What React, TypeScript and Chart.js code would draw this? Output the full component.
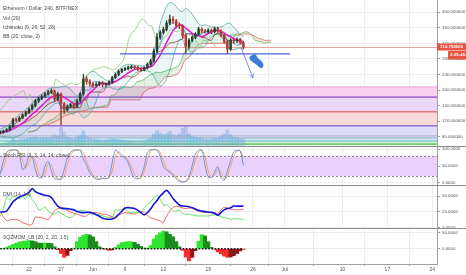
import React, { useEffect, useRef } from 'react';
import { Chart, registerables } from 'chart.js';

Chart.register(...registerables);

// ---------- time axis ----------
const START_DAY = 17.5; // day-of-May, 2017 (May 17 12:00)
const STEP_DAYS = 0.5;
const ICHI_SHIFT = (26 * 4) / 24; // 26 bars of 240 min
const X_MIN = 17.47;
const X_MAX = 85.75;
const tickDays = [22, 27, 32, 37, 43, 50, 57, 62, 71, 78, 85];
const tickLabels = ['22', '27', 'Jun', '6', '12', '19', '26', 'Jul', '10', '17', '24'];

// ---------- price ----------
const opens = [90, 92, 94, 98, 106, 124, 122, 128, 136, 142, 151, 160, 172, 178, 184, 190, 195, 198, 176, 190, 165, 150, 158, 162, 157, 172, 190, 228, 222, 216, 212, 215, 219, 214, 215, 220, 232, 240, 248, 253, 255, 258, 260, 258, 254, 252, 257, 266, 275, 300, 335, 348, 356, 372, 382, 378, 366, 365, 340, 312, 328, 336, 344, 357, 352, 350, 354, 350, 358, 352, 340, 325, 305, 328, 326, 330, 322];
const closes = [92, 94, 98, 106, 124, 122, 128, 136, 142, 151, 160, 172, 178, 184, 190, 195, 198, 176, 190, 165, 150, 158, 162, 157, 172, 190, 228, 222, 216, 212, 215, 219, 214, 215, 220, 232, 240, 248, 253, 255, 258, 260, 258, 254, 252, 257, 266, 275, 300, 335, 348, 356, 372, 382, 378, 366, 365, 340, 312, 328, 336, 344, 357, 352, 350, 354, 350, 358, 352, 340, 325, 305, 328, 326, 330, 322, 310.75];
const highs = [95, 97, 101, 110, 128, 127, 132, 139, 146, 155, 164, 176, 182, 188, 194, 199, 203, 200, 194, 192, 168, 162, 166, 165, 176, 194, 240, 234, 226, 219, 219, 222, 222, 218, 223, 235, 244, 252, 256, 259, 262, 264, 263, 261, 257, 260, 270, 279, 306, 345, 353, 362, 378, 393, 389, 382, 372, 368, 344, 333, 340, 348, 362, 360, 356, 358, 357, 362, 361, 355, 343, 328, 332, 331, 334, 333, 325];
const lows = [87, 89, 92, 96, 104, 118, 119, 126, 133, 139, 148, 157, 168, 175, 181, 187, 191, 170, 173, 110, 140, 146, 154, 152, 154, 168, 186, 215, 210, 206, 208, 211, 208, 210, 212, 217, 229, 237, 245, 250, 252, 255, 255, 250, 248, 249, 254, 262, 271, 296, 330, 344, 352, 368, 372, 360, 358, 334, 295, 306, 324, 332, 340, 348, 346, 346, 345, 347, 348, 336, 320, 294, 302, 320, 322, 318, 306];
const volumes = [30, 35, 40, 55, 90, 70, 75, 80, 85, 95, 100, 110, 95, 90, 100, 95, 110, 140, 120, 230, 170, 110, 95, 90, 110, 130, 190, 120, 95, 85, 80, 75, 70, 75, 80, 90, 85, 80, 70, 65, 60, 60, 55, 55, 60, 65, 80, 95, 150, 190, 160, 140, 150, 180, 140, 130, 150, 220, 240, 150, 120, 110, 100, 90, 85, 80, 90, 95, 100, 120, 150, 200, 140, 110, 100, 95, 90];

// Bollinger (20, close, 2)
const bbBasis = [90, 91, 93, 96, 100, 104, 109, 115, 122, 130, 138, 144, 152, 160, 168, 176, 182, 185, 187, 185, 181, 176, 171, 165, 165, 165, 174, 184, 192, 200, 208, 215, 218, 216, 216, 218, 222, 227, 232, 238, 244, 249, 253, 255, 256, 256, 258, 260, 266, 277, 290, 305, 322, 338, 353, 362, 367, 366, 359, 353, 346, 342, 340, 338, 340, 346, 349, 352, 353, 351, 347, 341, 337, 333, 329, 325, 321];
const bbUpper = [100, 103, 107, 113, 124, 130, 137, 143, 150, 158, 166, 176, 184, 190, 196, 202, 206, 206, 207, 208, 210, 208, 202, 192, 185, 192, 220, 236, 245, 248, 245, 236, 232, 226, 224, 232, 242, 252, 260, 264, 266, 266, 264, 263, 262, 262, 267, 274, 296, 334, 370, 395, 415, 425, 423, 415, 405, 402, 410, 405, 395, 383, 370, 365, 368, 365, 362, 362, 362, 362, 366, 372, 370, 362, 352, 342, 338];
const bbLower = [82, 80, 79, 79, 78, 80, 83, 87, 94, 102, 110, 112, 120, 130, 140, 150, 158, 164, 167, 162, 152, 144, 140, 138, 145, 138, 128, 132, 139, 152, 171, 194, 204, 206, 208, 204, 202, 202, 204, 212, 222, 232, 242, 247, 250, 250, 249, 246, 236, 220, 210, 215, 229, 251, 283, 309, 329, 330, 308, 301, 297, 301, 310, 311, 312, 327, 336, 342, 344, 340, 328, 310, 304, 304, 306, 308, 304];

// Ichimoku (9, 26, 52, 26)
const tenkan = [92, 93, 95, 100, 110, 115, 125, 130, 135, 145, 151, 160, 170, 178, 184, 190, 194, 187, 187, 154, 154, 154, 155, 160, 165, 172, 198, 200, 200, 220, 222, 220, 218, 218, 218, 225, 230, 238, 246, 252, 256, 258, 258, 257, 256, 256, 258, 263, 280, 300, 315, 345, 360, 368, 372, 374, 372, 362, 345, 345, 345, 335, 340, 345, 350, 353, 352, 354, 354, 350, 340, 328, 325, 320, 315, 318, 318];
const kijun = [92, 93, 95, 98, 105, 108, 110, 114, 117, 122, 128, 133, 140, 148, 157, 163, 168, 170, 175, 155, 155, 155, 155, 155, 155, 155, 175, 175, 195, 195, 195, 195, 195, 206, 222, 222, 222, 226, 231, 233, 236, 233, 235, 242, 249, 252, 258, 262, 275, 295, 300, 305, 312, 321, 322, 324, 328, 332, 344, 344, 344, 344, 340, 335, 335, 330, 328, 341, 346, 346, 341, 328, 328, 328, 328, 328, 326];
const spanA = [92, 93, 95, 99, 107, 111, 117, 122, 126, 133, 139, 146, 155, 163, 170, 176, 181, 178, 181, 154, 154, 154, 155, 157, 160, 163, 186, 187, 197, 207, 208, 207, 206, 212, 220, 223, 226, 232, 238, 242, 246, 245, 246, 249, 252, 254, 258, 262, 277, 297, 307, 325, 336, 344, 347, 349, 350, 347, 344, 344, 344, 338, 340, 340, 342, 341, 340, 347, 350, 348, 340, 328, 326, 324, 321, 323, 322];
const spanB = [92, 93, 95, 99, 108, 110, 110, 114, 117, 121, 126, 132, 135, 138, 141, 143, 145, 146, 148, 150, 153, 156, 156, 156, 156, 156, 175, 175, 175, 175, 175, 175, 175, 175, 175, 175, 192, 199, 204, 205, 208, 216, 225, 235, 235, 235, 239, 243, 257, 277, 282, 290, 303, 315, 319, 320, 320, 320, 320, 320, 320, 321, 323, 327, 332, 344, 344, 344, 344, 344, 342, 338, 333, 331, 328, 328, 328];

// horizontal zones drawn on the chart (price levels)
const zoneTops = [208, 182, 144, 108, 82, 77, 69];
const zoneBottoms = [182, 144, 108, 82, 77, 69, 61];
const zoneLineLevels = [208, 182, 144, 108, 82, 77, 69, 61];

// drawings (day / price)
const trendDays = [36.2, 62.8];
const trendPrices = [293, 293];
const arrowDays = [55.1, 57.0];
const arrowPrices = [311, 231];
const blobDays = [56.74, 57.42, 57.67, 58.45, 58.72, 58.3, 57.78, 57.27, 56.58, 56.38];
const blobPrices = [290, 294.5, 281.7, 274.7, 261.8, 254.1, 261.8, 268.8, 275.5, 284.2];

const priceTicks = [80, 120, 160, 200, 240, 280, 320, 360, 400];

// ---------- Stoch RSI ----------
const stochK = [26, 65, 90, 97, 97, 97, 82, 40, 50, 80, 76, 40, 16, 16, 50, 64, 35, 13, 11, 11, 40, 75, 90, 97, 97, 97, 71, 52, 30, 18, 11, 11, 15, 12, 18, 60, 97, 88, 78, 74, 60, 32, 14, 12, 20, 48, 90, 98, 98, 97, 79, 47, 38, 31, 23, 13, 5, 3, 5, 20, 50, 85, 96, 97, 52, 18, 16, 32, 48, 15, 8, 35, 66, 92, 96, 94, 52];
const stochD = [30, 45, 75, 92, 97, 97, 92, 65, 45, 62, 78, 62, 30, 16, 28, 56, 52, 25, 12, 11, 22, 55, 82, 94, 97, 97, 88, 62, 42, 25, 15, 11, 13, 13, 15, 35, 78, 92, 84, 76, 68, 48, 24, 13, 15, 32, 68, 94, 98, 98, 90, 64, 43, 35, 27, 18, 9, 4, 4, 12, 34, 68, 90, 96, 78, 35, 17, 22, 40, 32, 12, 20, 50, 80, 94, 95, 75];
const stochBand = [80, 20];
const stochTicks = [0, 50, 100];

// ---------- DMI ----------
const adx = [24.7, 24.7, 26, 33, 41, 45, 48.5, 50.6, 52.7, 56, 61.8, 57, 54.3, 52.8, 51, 50.6, 47.5, 40.5, 34, 31, 30, 30, 29, 28, 25.7, 24, 23.6, 24, 24, 22.5, 20.4, 17.8, 14.6, 13.5, 13, 13.5, 15.6, 21, 25.7, 31, 31.5, 31, 30, 27.3, 23.6, 20, 23.6, 29.4, 36.8, 43, 50, 55, 59, 53.8, 46, 40.5, 35.8, 34, 33.7, 33, 31.5, 29.4, 27.3, 26, 25.2, 24.7, 24, 22.5, 19.4, 23.6, 28, 30, 31.5, 34, 34, 34, 34];
const plusDI = [18.3, 29, 49, 43, 50, 48, 46, 49, 46, 54, 44, 38.4, 28, 29, 33, 26, 22.5, 21, 25, 22.5, 20, 16.7, 15.6, 19.4, 23.6, 27.3, 26.8, 25, 22.5, 21, 21, 20, 18.3, 17, 16, 15.6, 28, 27.3, 29, 30, 24.7, 23.6, 23.6, 23.6, 23.6, 31.5, 37, 40.5, 47, 52, 44.8, 35, 36.3, 32, 26, 25.7, 28, 22.5, 21, 21, 20, 18.8, 18.3, 18.3, 18.3, 18.3, 19.4, 20.4, 19.4, 17, 15.6, 14.6, 13, 13.5, 14, 13.5, 13];
const minusDI = [26, 16.7, 11, 12, 13, 13, 11, 7.7, 6, 4, 5, 17, 15.6, 15.6, 14, 12, 19.4, 26.8, 30, 30.5, 31, 26.8, 24.7, 22.5, 21, 19.4, 17.8, 18.3, 22.5, 23.6, 23.6, 22.5, 21, 21, 18.8, 17, 16, 19.4, 21.5, 23.6, 23, 22, 21, 23.6, 25.7, 24, 19.4, 15, 14, 12, 10.4, 7.7, 18.3, 26, 32, 34, 33, 31, 30, 31, 30.5, 28, 25.7, 24.7, 24, 23.6, 23.6, 23.6, 21.5, 28, 32, 31, 29, 28.4, 28, 28.4, 29];
const dmiTicks = [0, 25, 50];

// ---------- SQZMOM ----------
const sqzMom = [0, 1, 4, 9, 13, 17, 21, 23, 24, 25.5, 24.5, 22, 18, 17, 18, 17, 16, 6, -3, -15, -27, -21, -6, 2, 22, 36, 42, 45, 43, 37, 22, 6, 0.5, -1.5, -5, -4, 4, 12, 19, 21, 22, 22, 20, 14, 7, 2, 0.5, 10, 30, 42, 50, 55, 53, 45, 37, 22, 6, -5, -26, -38, -27, -6, 23, 44, 40, 22, 4, -1.5, -10, -16, -23, -27, -26, -22, -15, -7, -1];
const sqzTicks = [0, 50];

// ---------- styling ----------
const FONT = '"Liberation Sans", Arial, sans-serif';
const AXIS_W = 29;
const ZONE_FILLS = ['#f6d2ee', '#ebd8f8', '#f7dada', '#dcdcf7', '#e3e7ef', '#cfeaf2', '#d5f1d5'];
const ZONE_LINES = ['#e69ed8', '#a870da', '#e07c7c', '#8f72d8', '#a7aec8', '#8ea6cc', '#5cc2cc', '#6fd06f'];
const ZONE_LINE_W = [1, 1.8, 1.4, 1.6, 1, 1, 1.2, 1.8];

const days = closes.map((_, i) => START_DAY + STEP_DAYS * i);
const series = (vals: number[], shift = 0) => vals.map((v, i) => ({ x: days[i] + shift, y: v }));
const pairs = (xs: number[], ys: number[]) => xs.map((x, i) => ({ x, y: ys[i] }));

function zeroPad(s: any) {
  s.paddingTop = 0;
  s.paddingBottom = 0;
  s.paddingLeft = 0;
  s.paddingRight = 0;
}

function xScale(show: boolean) {
  return {
    type: 'linear',
    min: X_MIN,
    max: X_MAX,
    offset: false,
    afterBuildTicks: (s: any) => {
      s.ticks = tickDays.map((v) => ({ value: v }));
    },
    afterFit: (s: any) => {
      s.height = show ? 11 : 0;
      zeroPad(s);
    },
    grid: { color: '#ededed', lineWidth: 1, drawTicks: show, tickLength: 2, tickColor: '#aaa' },
    border: { display: show, color: '#a0a0a0' },
    ticks: {
      display: show,
      autoSkip: false,
      maxRotation: 0,
      padding: 1,
      color: '#555',
      font: { family: FONT, size: 5 },
      callback: (_v: any, i: number) => tickLabels[i],
    },
  };
}

function yScale(min: number, max: number, ticks: number[], decimals: number) {
  return {
    position: 'right',
    min,
    max,
    afterBuildTicks: (s: any) => {
      s.ticks = ticks.map((v) => ({ value: v }));
    },
    afterFit: (s: any) => {
      s.width = AXIS_W;
      zeroPad(s);
    },
    grid: { color: '#eeeeee', lineWidth: 1, tickLength: 3, tickColor: '#a0a0a0' },
    border: { color: '#a0a0a0' },
    ticks: {
      padding: 2,
      color: '#555',
      font: { family: FONT, size: 4.4 },
      callback: (v: any) => Number(v).toFixed(decimals),
    },
  };
}

function baseOptions(scales: any) {
  return {
    responsive: false,
    maintainAspectRatio: false,
    animation: false,
    devicePixelRatio: 1,
    events: [],
    layout: { padding: 0 },
    plugins: { legend: { display: false }, tooltip: { enabled: false } },
    scales,
  };
}

function textPlugin(lines: string[], top: number, step: number) {
  return {
    id: 'paneText',
    afterDraw(chart: any) {
      const { ctx } = chart;
      ctx.save();
      ctx.font = `5px ${FONT}`;
      ctx.fillStyle = '#4a4a4a';
      ctx.textBaseline = 'middle';
      ctx.textAlign = 'left';
      lines.forEach((t, i) => ctx.fillText(t, 3, top + i * step));
      ctx.restore();
    },
  };
}

const line = (data: any[], color: string, width: number, order: number, extra: any = {}) => ({
  type: 'line',
  data,
  borderColor: color,
  borderWidth: width,
  pointRadius: 0,
  tension: 0.25,
  fill: false,
  order,
  ...extra,
});

// ---------- main pane ----------
const MAIN_MAX = 431.6;
const MAIN_MIN = 56.1;
const VOL_MAX = 1800;

function mainConfig() {
  const up = closes.map((c, i) => c >= opens[i]);
  const last = closes[closes.length - 1];
  const mainPlugin = {
    id: 'mainDecor',
    beforeDatasetsDraw(chart: any) {
      const { ctx, chartArea: a, scales } = chart;
      const y = scales.y;
      ctx.save();
      ctx.beginPath();
      ctx.rect(a.left, a.top, a.width, a.height);
      ctx.clip();
      zoneTops.forEach((t, i) => {
        const y1 = y.getPixelForValue(t);
        const y2 = y.getPixelForValue(zoneBottoms[i]);
        ctx.fillStyle = ZONE_FILLS[i];
        ctx.fillRect(a.left, y1, a.width, y2 - y1);
      });
      zoneLineLevels.forEach((v, i) => {
        const p = y.getPixelForValue(v);
        ctx.strokeStyle = ZONE_LINES[i];
        ctx.lineWidth = ZONE_LINE_W[i];
        ctx.beginPath();
        ctx.moveTo(a.left, p);
        ctx.lineTo(a.right, p);
        ctx.stroke();
      });
      const lp = Math.round(y.getPixelForValue(last)) + 0.5;
      ctx.strokeStyle = '#f2a49c';
      ctx.lineWidth = 1;
      ctx.beginPath();
      ctx.moveTo(a.left, lp);
      ctx.lineTo(a.right, lp);
      ctx.stroke();
      ctx.restore();
    },
    afterDatasetsDraw(chart: any) {
      const { ctx, scales } = chart;
      // arrow head on the arrow drawing
      const pts = chart.getDatasetMeta(3).data;
      ctx.save();
      if (pts.length >= 2) {
        const p0 = pts[0];
        const p1 = pts[1];
        const ang = Math.atan2(p1.y - p0.y, p1.x - p0.x);
        ctx.strokeStyle = '#7d90e0';
        ctx.lineWidth = 1;
        ctx.beginPath();
        [-0.45, 0.45].forEach((d) => {
          ctx.moveTo(p1.x, p1.y);
          ctx.lineTo(p1.x - 4.5 * Math.cos(ang + d), p1.y - 4.5 * Math.sin(ang + d));
        });
        ctx.stroke();
      }
      // blob drawing (smooth closed shape)
      const bp = blobDays.map((d, i) => [scales.x.getPixelForValue(d), scales.y.getPixelForValue(blobPrices[i])]);
      const n = bp.length;
      const mid = (a: number[], b: number[]) => [(a[0] + b[0]) / 2, (a[1] + b[1]) / 2];
      ctx.fillStyle = '#3b7dd8';
      ctx.beginPath();
      const m0 = mid(bp[n - 1], bp[0]);
      ctx.moveTo(m0[0], m0[1]);
      for (let i = 0; i < n; i++) {
        const m = mid(bp[i], bp[(i + 1) % n]);
        ctx.quadraticCurveTo(bp[i][0], bp[i][1], m[0], m[1]);
      }
      ctx.closePath();
      ctx.fill();
      ctx.restore();
    },
    afterDraw(chart: any) {
      const { ctx, chartArea: a, scales } = chart;
      const p = scales.y.getPixelForValue(last);
      ctx.save();
      ctx.fillStyle = '#e9533f';
      ctx.fillRect(a.right, p - 3.5, AXIS_W, 7);
      ctx.fillRect(a.right + 11, p + 4, AXIS_W - 11, 8.5);
      ctx.fillStyle = '#ffffff';
      ctx.font = `bold 4.4px ${FONT}`;
      ctx.textBaseline = 'middle';
      ctx.textAlign = 'left';
      ctx.fillText(last.toFixed(6), a.right + 3, p);
      ctx.fillText('2:25:45', a.right + 13, p + 8.3);
      ctx.restore();
    },
  };

  return {
    type: 'line',
    data: {
      datasets: [
        {
          type: 'bar',
          data: closes.map((c, i) => ({ x: days[i], y: [opens[i], c] })),
          backgroundColor: up.map((u) => (u ? '#24402b' : '#b8392c')),
          barThickness: 1.8,
          grouped: false,
          minBarLength: 1,
          order: 0,
        },
        {
          type: 'bar',
          data: highs.map((h, i) => ({ x: days[i], y: [lows[i], h] })),
          backgroundColor: up.map((u) => (u ? '#2a3a2e' : '#9a2f25')),
          barThickness: 0.7,
          grouped: false,
          order: 1,
        },
        line(pairs(trendDays, trendPrices), '#4f63dd', 1.4, 2, { tension: 0 }),
        line(pairs(arrowDays, arrowPrices), '#7d90e0', 1, 2, { tension: 0 }),
        line(series(bbBasis), '#e01ad4', 1.5, 3),
        line(series(tenkan), '#4470d8', 0.7, 4),
        line(series(kijun), '#8e1f1f', 0.7, 4),
        line(series(closes, -ICHI_SHIFT), '#86cc6c', 0.8, 4),
        line(series(bbUpper), '#3c9f93', 0.7, 5, { fill: '+1', backgroundColor: 'rgba(95,190,175,0.13)' }),
        line(series(bbLower), '#3c9f93', 0.7, 5),
        line(series(spanA, ICHI_SHIFT), '#3fae4a', 0.7, 6, {
          fill: { target: '+1', above: 'rgba(67,160,71,0.15)', below: 'rgba(230,70,60,0.13)' },
        }),
        line(series(spanB, ICHI_SHIFT), '#e05050', 0.7, 6),
        {
          type: 'bar',
          yAxisID: 'vol',
          data: series(volumes),
          backgroundColor: up.map((u) => (u ? 'rgba(90,170,215,0.42)' : 'rgba(120,160,220,0.38)')),
          barThickness: 3.2,
          grouped: false,
          order: 7,
        },
      ],
    },
    options: baseOptions({
      x: xScale(false),
      y: yScale(MAIN_MIN, MAIN_MAX, priceTicks, 6),
      vol: { display: false, min: 0, max: VOL_MAX },
    }),
    plugins: [
      mainPlugin,
      textPlugin(['Ethereum / Dollar, 240, BITFINEX', 'Vol (20)', 'Ichimoku (9, 26, 52, 26)', 'BB (20, close, 2)'], 9, 9.2),
    ],
  };
}

// ---------- stoch pane ----------
function stochConfig() {
  const band = {
    id: 'stochBand',
    beforeDatasetsDraw(chart: any) {
      const { ctx, chartArea: a, scales } = chart;
      const y1 = scales.y.getPixelForValue(stochBand[0]);
      const y2 = scales.y.getPixelForValue(stochBand[1]);
      ctx.save();
      ctx.fillStyle = '#e9d0fa';
      ctx.fillRect(a.left, y1, a.width, y2 - y1);
      ctx.strokeStyle = '#8a8a8a';
      ctx.lineWidth = 1;
      ctx.setLineDash([2, 2]);
      [y1, y2].forEach((p) => {
        ctx.beginPath();
        ctx.moveTo(a.left, Math.round(p) + 0.5);
        ctx.lineTo(a.right, Math.round(p) + 0.5);
        ctx.stroke();
      });
      ctx.restore();
    },
  };
  return {
    type: 'line',
    data: {
      datasets: [
        line(series(stochK), '#5b8de0', 0.9, 0, { tension: 0.3 }),
        line(series(stochD), '#f0a04a', 0.9, 1, { tension: 0.3 }),
      ],
    },
    options: baseOptions({ x: xScale(false), y: yScale(-5.9, 105.9, stochTicks, 4) }),
    plugins: [band, textPlugin(['Stoch RSI (3, 3, 14, 14, close)'], 9, 9)],
  };
}

// ---------- DMI pane ----------
function dmiConfig() {
  return {
    type: 'line',
    data: {
      datasets: [
        line(series(adx), '#1616d8', 1.6, 0, { tension: 0.3 }),
        line(series(plusDI), '#52dc52', 0.9, 1, { tension: 0.2 }),
        line(series(minusDI), '#ee5050', 0.9, 2, { tension: 0.2 }),
      ],
    },
    options: baseOptions({ x: xScale(false), y: yScale(-0.8, 65.9, dmiTicks, 4) }),
    plugins: [textPlugin(['DMI (14, 14)'], 9, 9)],
  };
}

// ---------- SQZMOM pane ----------
function sqzConfig() {
  const colors = sqzMom.map((v, i) => {
    const prev = i > 0 ? sqzMom[i - 1] : 0;
    if (v >= 0) return v >= prev ? '#2ee62e' : '#1d8a1d';
    return v <= prev ? '#ff2b2b' : '#8a1a1a';
  });
  return {
    type: 'line',
    data: {
      datasets: [
        line(series(sqzMom.map(() => 0)), '#1a1a1a', 1.6, 0, { tension: 0, borderDash: [1.6, 1.6] }),
        {
          type: 'bar',
          data: series(sqzMom),
          backgroundColor: colors,
          barThickness: 3.4,
          grouped: false,
          order: 1,
        },
      ],
    },
    options: baseOptions({ x: xScale(true), y: yScale(-47.8, 61.6, sqzTicks, 4) }),
    plugins: [textPlugin(['SQZMOM_LB (20, 2, 20, 1.5)'], 9, 9)],
  };
}

function Pane({ height, build }: { height: number; build: () => any }) {
  const ref = useRef<HTMLCanvasElement>(null);
  useEffect(() => {
    const chart = new Chart(ref.current as HTMLCanvasElement, build() as any);
    return () => chart.destroy();
  }, []);
  return <canvas ref={ref} width={466} height={height} style={{ display: 'block', width: 466, height }} />;
}

const Sep = () => <div style={{ height: 1, background: '#8c8c8c' }} />;

export default function App() {
  return (
    <div
      style={{
        position: 'absolute',
        left: 0,
        top: 0,
        width: 466,
        height: 275,
        background: '#ffffff',
        overflow: 'hidden',
      }}
    >
      <Pane height={146} build={mainConfig} />
      <Sep />
      <Pane height={38} build={stochConfig} />
      <Sep />
      <Pane height={42} build={dmiConfig} />
      <Sep />
      <Pane height={46} build={sqzConfig} />
    </div>
  );
}
